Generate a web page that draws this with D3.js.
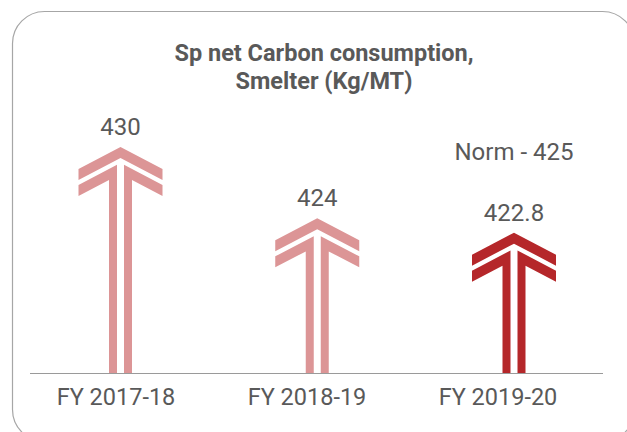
<!DOCTYPE html>
<html>
<head>
    <title>Sp net Carbon consumption</title>
    <script src="https://d3js.org/d3.v7.min.js"></script>
    <style>
        body { margin:0; background:#fff; }
        text { font-family: Roboto, "Liberation Sans", sans-serif; fill:#595959; }
    </style>
</head>
<body>
    <script>
    // data
    var years = ["FY 2017-18", "FY 2018-19", "FY 2019-20"];
    var values = [430, 424, 422.8];
    var valueLabels = ["430", "424", "422.8"];
    var colors = ["#dc9596", "#dc9596", "#b5272a"];
    var normLabel = "Norm - 425";

    var width = 627, height = 432;
    var baseY = 373;

    var svg = d3.select("body").append("svg")
                .attr("width", width).attr("height", height);

    // card
    svg.append("rect")
        .attr("x", 12.5).attr("y", 11.5)
        .attr("width", 622).attr("height", 430)
        .attr("rx", 32).attr("ry", 32)
        .attr("fill", "none").attr("stroke", "#a6a6a6").attr("stroke-width", 1.2);

    // title
    var title = svg.append("text")
        .attr("text-anchor", "middle")
        .style("font-weight", "bold").style("font-size", "23.5px");
    title.append("tspan").attr("x", 324).attr("y", 61).text("Sp net Carbon consumption,");
    title.append("tspan").attr("x", 324).attr("y", 89).text("Smelter (Kg/MT)");

    // scales
    var x = d3.scalePoint().domain(years).range([116, 498]);
    var xArrow = d3.scalePoint().domain(years).range([120.5, 514]);
    var y = d3.scaleLinear().domain([411, 430]).range([baseY, 147]);

    // arrow shape
    var W = 42, s = 22 / 42, t = 11, g = 5, hg = 3.5, sw = 11.5;
    function chevron(cx, ty) {
        return "M" + cx + "," + ty +
            "L" + (cx + W) + "," + (ty + s * W) +
            "L" + (cx + W) + "," + (ty + s * W + t) +
            "L" + cx + "," + (ty + t) +
            "L" + (cx - W) + "," + (ty + s * W + t) +
            "L" + (cx - W) + "," + (ty + s * W) + "Z";
    }
    function half(cx, ty, dir) {
        var y1 = ty + t + g;
        var p = [
            [cx + dir * hg, y1 + s * hg],
            [cx + dir * W, y1 + s * W],
            [cx + dir * W, y1 + s * W + t],
            [cx + dir * sw, y1 + t + s * sw],
            [cx + dir * sw, baseY],
            [cx + dir * hg, baseY]
        ];
        return "M" + p.map(function(d) { return d[0] + "," + d[1]; }).join("L") + "Z";
    }

    var arrows = svg.append("g").selectAll("g")
        .data(values).enter().append("g")
        .attr("fill", function(d, i) { return colors[i]; });

    arrows.append("path").attr("d", function(d, i) { return chevron(xArrow(years[i]), y(d)); });
    arrows.append("path").attr("d", function(d, i) { return half(xArrow(years[i]), y(d), -1); });
    arrows.append("path").attr("d", function(d, i) { return half(xArrow(years[i]), y(d), 1); });

    // value labels
    svg.append("g").selectAll("text")
        .data(values).enter().append("text")
        .attr("text-anchor", "middle")
        .style("font-size", "24px")
        .attr("x", function(d, i) { return xArrow(years[i]); })
        .attr("y", function(d) { return y(d) - 12; })
        .text(function(d, i) { return valueLabels[i]; });

    svg.append("text")
        .attr("text-anchor", "middle")
        .style("font-size", "24px")
        .attr("x", xArrow(years[2]))
        .attr("y", y(values[2]) - 73)
        .text(normLabel);

    // axis
    svg.append("line")
        .attr("x1", 30).attr("x2", 603)
        .attr("y1", baseY + 0.5).attr("y2", baseY + 0.5)
        .attr("stroke", "#9a9a9a").attr("stroke-width", 1.2);

    svg.append("g").selectAll("text")
        .data(years).enter().append("text")
        .attr("text-anchor", "middle")
        .style("font-size", "23.5px")
        .attr("x", function(d) { return x(d); })
        .attr("y", 405)
        .text(function(d) { return d; });
    </script>
</body>
</html>
